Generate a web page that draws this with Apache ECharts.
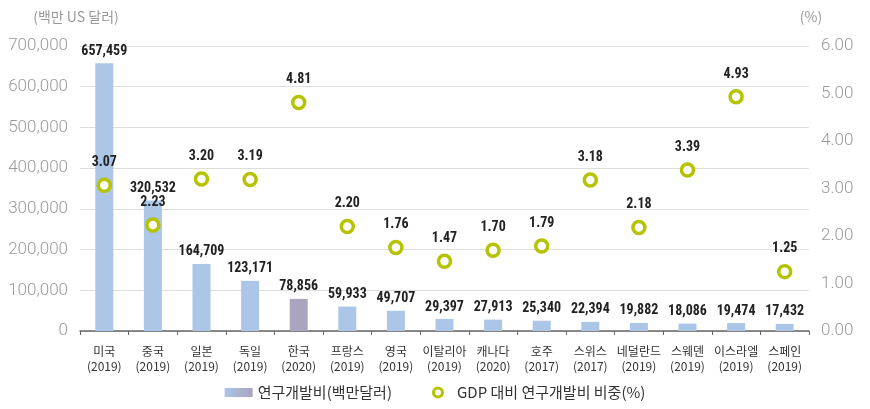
<!DOCTYPE html>
<html><head><meta charset="utf-8">
<script src="https://cdn.jsdelivr.net/npm/echarts@6/dist/echarts.min.js"></script>
<style>html,body{margin:0;padding:0;background:#fff}#c{width:870px;height:409px}</style>
</head><body><div id="c"></div>
<script>
const countries = ['미국','중국','일본','독일','한국','프랑스','영국','이탈리아','캐나다','호주','스위스','네덜란드','스웨덴','이스라엘','스페인'];
const years = ['2019','2019','2019','2019','2020','2019','2019','2019','2020','2017','2017','2019','2019','2019','2019'];
const rdSpend = [657459,320532,164709,123171,78856,59933,49707,29397,27913,25340,22394,19882,18086,19474,17432];
const gdpShare = [3.07,2.23,3.20,3.19,4.81,2.20,1.76,1.47,1.70,1.79,3.18,2.18,3.39,4.93,1.25];
const leftTicks = [0,100000,200000,300000,400000,500000,600000,700000];
const rightTicks = [0,1,2,3,4,5,6];

const blue = '#abc6e6', korea = '#aaa4bf', ring = '#b6c300';
const catLabels = countries.map((c,i)=>c+'\n('+years[i]+')');
const font = '"Noto Sans CJK KR", "Noto Sans", sans-serif';
const numFont = '"Liberation Sans Narrow", "Roboto Condensed", "Noto Sans CJK KR", sans-serif';
const axFont = 'Roboto, "Noto Sans", sans-serif';

const chart = echarts.init(document.getElementById('c'));
chart.setOption({
  animation:false,
  textStyle:{fontFamily:font},
  grid:{left:80,right:61,top:46,bottom:78},
  legend:{
    bottom:4, left:'center', itemGap:40, itemWidth:28, itemHeight:9,
    textStyle:{fontSize:15,color:'#333',fontFamily:font},
    data:[
      {name:'연구개발비(백만달러)', icon:'rect', itemStyle:{color:new echarts.graphic.LinearGradient(0,0,1,0,[{offset:0,color:blue},{offset:1,color:korea}])}},
      {name:'GDP 대비 연구개발비 비중(%)', icon:'circle', itemWidth:12, itemHeight:12, itemStyle:{color:'#fff',borderColor:ring,borderWidth:3}}
    ]
  },
  xAxis:{
    type:'category', data:catLabels,
    axisLine:{lineStyle:{color:'#666',width:1.5}},
    axisTick:{show:true,length:4,lineStyle:{color:'#666'}},
    axisLabel:{fontSize:12,color:'#333',lineHeight:15,margin:13,interval:0}
  },
  yAxis:[
    {type:'value',min:0,max:700000,interval:100000,
     name:'(백만 US 달러)',nameLocation:'end',nameGap:22,
     nameTextStyle:{color:'#999',fontSize:14,align:'center',padding:[0,0,0,-8]},
     axisLine:{show:false},axisTick:{show:false},
     axisLabel:{fontSize:17,color:'#9a9a9a',margin:12,fontFamily:axFont,fontWeight:300,formatter:v=>v.toLocaleString('en-US')},
     splitLine:{lineStyle:{color:'#ddd',width:1}}},
    {type:'value',min:0,max:6,interval:1,
     name:'(%)',nameLocation:'end',nameGap:22,
     nameTextStyle:{color:'#999',fontSize:14,align:'center',padding:[0,0,0,4]},
     axisLine:{show:false},axisTick:{show:false},splitLine:{show:false},
     axisLabel:{fontSize:17,color:'#9a9a9a',margin:12,fontFamily:axFont,fontWeight:300,formatter:v=>v.toFixed(2)}}
  ],
  series:[
    {name:'연구개발비(백만달러)', type:'bar', yAxisIndex:0, barWidth:18,
     data:rdSpend.map((v,i)=>({value:v,itemStyle:{color:countries[i]==='한국'?korea:blue}})),
     itemStyle:{color:blue},
     label:{show:true,position:'top',distance:5,fontSize:14,fontWeight:'bold',color:'#222',fontFamily:numFont,
            formatter:p=>p.value.toLocaleString('en-US')}},
    {name:'GDP 대비 연구개발비 비중(%)', type:'scatter', yAxisIndex:1, symbolSize:12,
     data:gdpShare, z:5,
     itemStyle:{color:'#fff',borderColor:ring,borderWidth:3.5,opacity:1},
     label:{show:true,position:'top',distance:8,fontSize:14,fontWeight:'bold',color:'#222',fontFamily:numFont,
            formatter:p=>p.value.toFixed(2)}}
  ]
});
</script></body></html>
